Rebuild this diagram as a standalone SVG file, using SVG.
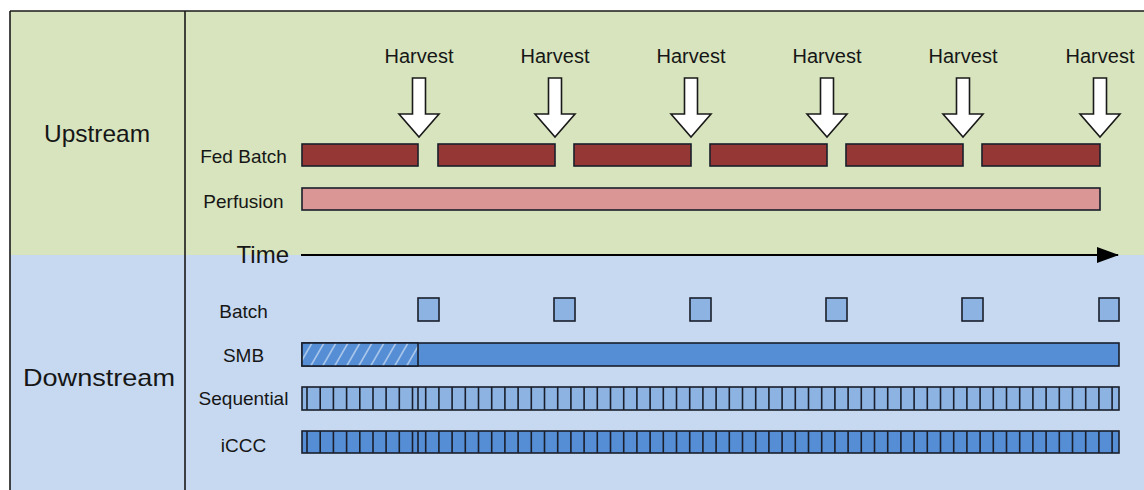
<svg xmlns="http://www.w3.org/2000/svg" width="1144" height="490" viewBox="0 0 1144 490">
  <style>
    .lbl { font-family: "Liberation Sans", Arial, sans-serif; fill: #161616; }
    .sm { font-size: 19px; text-anchor: middle; }
    .hv { font-size: 20px; text-anchor: middle; }
    .big { font-size: 24px; text-anchor: middle; }
    .bar { stroke: #1a1f2b; stroke-width: 1.6; }
    .fb { fill: #953735; }
    .pf { fill: #d99694; }
    .lb { fill: #8db3e2; }
    .mb { fill: #558ed5; }
    .grid { stroke: #1a1f2b; stroke-width: 1.6; }
    .harrow { fill: #ffffff; stroke: #1a1a1a; stroke-width: 1.6; stroke-linejoin: miter; }
  </style>
  <defs>
    <pattern id="hatch" patternUnits="userSpaceOnUse" width="12" height="24" patternTransform="skewX(-30)">
      <rect width="12" height="24" fill="#558ed5"/>
      <line x1="6" y1="0" x2="6" y2="24" stroke="#c9dbf3" stroke-width="1.4"/>
    </pattern>
    <marker id="timeHead" markerWidth="22" markerHeight="16" refX="21" refY="8" orient="auto" markerUnits="userSpaceOnUse">
      <path d="M0,0 L22,8 L0,16 Z" fill="#000"/>
    </marker>
    <path id="harvestArrow" class="harrow" d="M-6.5,0 H6.5 V36 H20 L0,59 L-20,36 H-6.5 Z"/>
  </defs>

  <!-- background -->
  <rect x="0" y="0" width="1144" height="490" fill="#ffffff"/>
  <g id="upstream-band">
    <rect x="10" y="11" width="1140" height="244" fill="#d7e4bd"/>
    <text class="lbl big" x="97" y="142" textLength="106" lengthAdjust="spacingAndGlyphs">Upstream</text>
  </g>
  <g id="downstream-band">
    <rect x="10" y="255" width="1140" height="240" fill="#c6d9f1"/>
    <text class="lbl big" x="99" y="386" font-size="25" textLength="152" lengthAdjust="spacingAndGlyphs">Downstream</text>
  </g>
  <g id="frame" fill="none" stroke="#1a1a1a" stroke-width="1.6">
    <line x1="10" y1="11" x2="1144" y2="11"/>
    <line x1="10" y1="11" x2="10" y2="490"/>
    <line x1="185" y1="11" x2="185" y2="490"/>
  </g>

  <!-- Harvest arrows -->
  <g id="harvests">
    <g id="harvest-1"><text class="lbl hv" x="419" y="63">Harvest</text><use href="#harvestArrow" x="419" y="78"/></g>
    <g id="harvest-2"><text class="lbl hv" x="555" y="63">Harvest</text><use href="#harvestArrow" x="555" y="78"/></g>
    <g id="harvest-3"><text class="lbl hv" x="691" y="63">Harvest</text><use href="#harvestArrow" x="691" y="78"/></g>
    <g id="harvest-4"><text class="lbl hv" x="827" y="63">Harvest</text><use href="#harvestArrow" x="827" y="78"/></g>
    <g id="harvest-5"><text class="lbl hv" x="963" y="63">Harvest</text><use href="#harvestArrow" x="963" y="78"/></g>
    <g id="harvest-6"><text class="lbl hv" x="1100" y="63">Harvest</text><use href="#harvestArrow" x="1100" y="78"/></g>
  </g>

  <!-- Fed batch -->
  <g id="fed-batch">
    <text class="lbl sm" x="243.5" y="163">Fed Batch</text>
    <rect class="bar fb" x="302" y="144" width="116" height="22"/>
    <rect class="bar fb" x="438" y="144" width="117" height="22"/>
    <rect class="bar fb" x="574" y="144" width="117" height="22"/>
    <rect class="bar fb" x="710" y="144" width="117" height="22"/>
    <rect class="bar fb" x="846" y="144" width="117" height="22"/>
    <rect class="bar fb" x="982" y="144" width="118" height="22"/>
  </g>

  <!-- Perfusion -->
  <g id="perfusion">
    <text class="lbl sm" x="243.5" y="208" font-size="20">Perfusion</text>
    <rect class="bar pf" x="302" y="188" width="798" height="22"/>
  </g>

  <!-- Time axis -->
  <g id="time-axis">
    <text class="lbl" x="289" y="263" font-size="24" text-anchor="end">Time</text>
  </g>
  <g id="connectors">
    <line x1="301" y1="255" x2="1118" y2="255" stroke="#000" stroke-width="2" marker-end="url(#timeHead)"/>
  </g>

  <!-- Batch -->
  <g id="batch">
    <text class="lbl sm" x="243.5" y="318" font-size="20">Batch</text>
    <rect class="bar lb" x="418" y="298" width="21" height="23"/>
    <rect class="bar lb" x="554" y="298" width="21" height="23"/>
    <rect class="bar lb" x="690" y="298" width="21" height="23"/>
    <rect class="bar lb" x="826" y="298" width="21" height="23"/>
    <rect class="bar lb" x="962" y="298" width="21" height="23"/>
    <rect class="bar lb" x="1099" y="298" width="20" height="23"/>
  </g>

  <!-- SMB -->
  <g id="smb">
    <text class="lbl sm" x="243.5" y="362">SMB</text>
    <rect class="bar mb" x="302" y="343" width="817" height="23"/>
    <rect class="bar" x="302" y="343" width="116" height="23" fill="url(#hatch)"/>
  </g>

  <!-- Sequential -->
  <g id="sequential">
    <text class="lbl sm" x="243.5" y="405" font-size="18">Sequential</text>
    <rect class="bar lb" x="302" y="387" width="817" height="23"/>
    <path class="grid" d="M307,387V410 M320.2,387V410 M333.4,387V410 M346.6,387V410 M359.8,387V410 M373,387V410 M386.1,387V410 M399.3,387V410 M412.5,387V410 M418,387V410 M425.7,387V410 M438.9,387V410 M452.1,387V410 M465.3,387V410 M478.5,387V410 M491.7,387V410 M504.9,387V410 M518.1,387V410 M531.3,387V410 M544.5,387V410 M557.7,387V410 M570.9,387V410 M584.1,387V410 M597.3,387V410 M610.5,387V410 M623.7,387V410 M636.9,387V410 M650.1,387V410 M663.3,387V410 M676.5,387V410 M689.7,387V410 M702.9,387V410 M716.1,387V410 M729.3,387V410 M742.5,387V410 M755.7,387V410 M768.9,387V410 M782.1,387V410 M795.3,387V410 M808.5,387V410 M821.7,387V410 M834.9,387V410 M848.1,387V410 M861.3,387V410 M874.5,387V410 M887.7,387V410 M900.9,387V410 M914.1,387V410 M927.3,387V410 M940.5,387V410 M953.7,387V410 M966.9,387V410 M980.1,387V410 M993.3,387V410 M1006.5,387V410 M1019.7,387V410 M1032.9,387V410 M1046.1,387V410 M1059.3,387V410 M1072.5,387V410 M1085.7,387V410 M1098.9,387V410 M1112.1,387V410"/>
  </g>

  <!-- iCCC -->
  <g id="iccc">
    <text class="lbl sm" x="243.5" y="452">iCCC</text>
    <rect class="bar mb" x="302" y="431" width="817" height="22"/>
    <path class="grid" d="M307,431V453 M320.2,431V453 M333.4,431V453 M346.6,431V453 M359.8,431V453 M373,431V453 M386.1,431V453 M399.3,431V453 M412.5,431V453 M418,431V453 M425.7,431V453 M438.9,431V453 M452.1,431V453 M465.3,431V453 M478.5,431V453 M491.7,431V453 M504.9,431V453 M518.1,431V453 M531.3,431V453 M544.5,431V453 M557.7,431V453 M570.9,431V453 M584.1,431V453 M597.3,431V453 M610.5,431V453 M623.7,431V453 M636.9,431V453 M650.1,431V453 M663.3,431V453 M676.5,431V453 M689.7,431V453 M702.9,431V453 M716.1,431V453 M729.3,431V453 M742.5,431V453 M755.7,431V453 M768.9,431V453 M782.1,431V453 M795.3,431V453 M808.5,431V453 M821.7,431V453 M834.9,431V453 M848.1,431V453 M861.3,431V453 M874.5,431V453 M887.7,431V453 M900.9,431V453 M914.1,431V453 M927.3,431V453 M940.5,431V453 M953.7,431V453 M966.9,431V453 M980.1,431V453 M993.3,431V453 M1006.5,431V453 M1019.7,431V453 M1032.9,431V453 M1046.1,431V453 M1059.3,431V453 M1072.5,431V453 M1085.7,431V453 M1098.9,431V453 M1112.1,431V453"/>
  </g>
</svg>
